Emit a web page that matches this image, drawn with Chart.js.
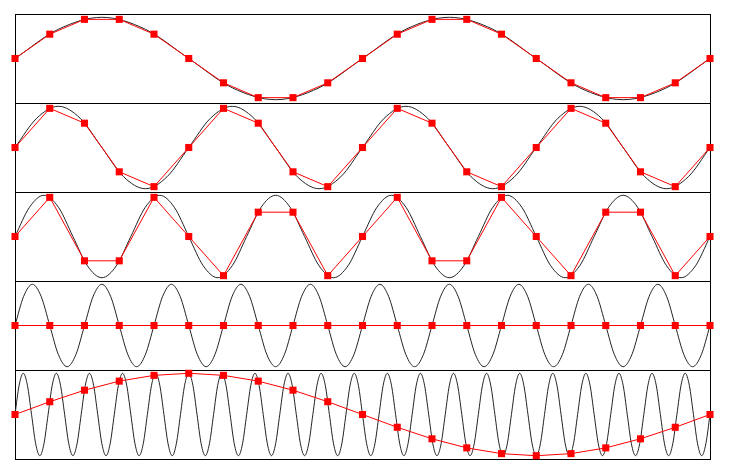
<!DOCTYPE html>
<html>
<head>
<meta charset="utf-8">
<script src="https://cdn.jsdelivr.net/npm/chart.js@4"></script>
<style>
  html, body { margin: 0; padding: 0; background: #fff; }
  body { width: 729px; height: 474px; position: relative; overflow: hidden; }
  .frame { position: absolute; box-sizing: border-box; border: 1px solid #000; }
  canvas { position: absolute; }
</style>
</head>
<body>
<script>
const SAMPLES_1 = [0, 0.59, 0.95, 0.95, 0.59, 0, -0.59, -0.95, -0.95, -0.59, 0, 0.59, 0.95, 0.95, 0.59, 0, -0.59, -0.95, -0.95, -0.59, 0];
const SAMPLES_2 = [0, 0.95, 0.59, -0.59, -0.95, 0, 0.95, 0.59, -0.59, -0.95, 0, 0.95, 0.59, -0.59, -0.95, 0, 0.95, 0.59, -0.59, -0.95, 0];
const SAMPLES_3 = [0, 0.95, -0.59, -0.59, 0.95, 0, -0.95, 0.59, 0.59, -0.95, 0, 0.95, -0.59, -0.59, 0.95, 0, -0.95, 0.59, 0.59, -0.95, 0];
const SAMPLES_4 = [0, 0, 0, 0, 0, 0, 0, 0, 0, 0, 0, 0, 0, 0, 0, 0, 0, 0, 0, 0, 0];
const SAMPLES_5 = [0, 0.31, 0.59, 0.81, 0.95, 1, 0.95, 0.81, 0.59, 0.31, 0, -0.31, -0.59, -0.81, -0.95, -1, -0.95, -0.81, -0.59, -0.31, 0];
const SAMPLES = [SAMPLES_1, SAMPLES_2, SAMPLES_3, SAMPLES_4, SAMPLES_5];

// black wave: cycles across the panel, and its value at each eighth of a cycle
const CYCLES = [2, 4, 6, 10, 21];
const WAVE_SHAPE = [0, 0.71, 1, 0.71, 0, -0.71, -1, -0.71];

const LEFT = 15, WIDTH = 695, TOP = 14, PANEL_H = 89, PAD = 6;

function wavePoints(cycles) {
  const n = cycles * WAVE_SHAPE.length;
  const pts = [];
  for (let j = 0; j <= n; j++) {
    pts.push({ x: j * (SAMPLES_1.length - 1) / n, y: WAVE_SHAPE[j % WAVE_SHAPE.length] });
  }
  return pts;
}

SAMPLES.forEach((vals, i) => {
  const top = TOP + i * PANEL_H;

  const frame = document.createElement('div');
  frame.className = 'frame';
  Object.assign(frame.style, { left: LEFT + 'px', top: top + 'px', width: (WIDTH + 1) + 'px', height: (PANEL_H + 1) + 'px' });
  document.body.appendChild(frame);

  const cv = document.createElement('canvas');
  cv.width = WIDTH + 2 * PAD;
  cv.height = PANEL_H + 2 * PAD;
  Object.assign(cv.style, { left: (LEFT - PAD) + 'px', top: (top - PAD) + 'px', width: cv.width + 'px', height: cv.height + 'px' });
  document.body.appendChild(cv);

  new Chart(cv, {
    type: 'line',
    data: {
      datasets: [
        {
          label: 'samples',
          data: vals.map((v, k) => ({ x: k, y: v })),
          borderColor: '#ff0000',
          backgroundColor: '#ff0000',
          borderWidth: 1,
          pointStyle: 'rect',
          pointRadius: 5,
          pointBorderWidth: 0,
          tension: 0,
          clip: PAD,
        },
        {
          label: 'signal',
          data: wavePoints(CYCLES[i]),
          borderColor: '#222',
          borderWidth: 1,
          pointRadius: 0,
          cubicInterpolationMode: 'monotone',
        },
      ],
    },
    options: {
      responsive: false,
      animation: false,
      devicePixelRatio: 1,
      events: [],
      layout: { padding: PAD },
      plugins: { legend: { display: false }, tooltip: { enabled: false } },
      scales: {
        x: { type: 'linear', min: 0, max: 20, display: false },
        y: { min: -1.08, max: 1.08, display: false },
      },
    },
  });
});
</script>
</body>
</html>
